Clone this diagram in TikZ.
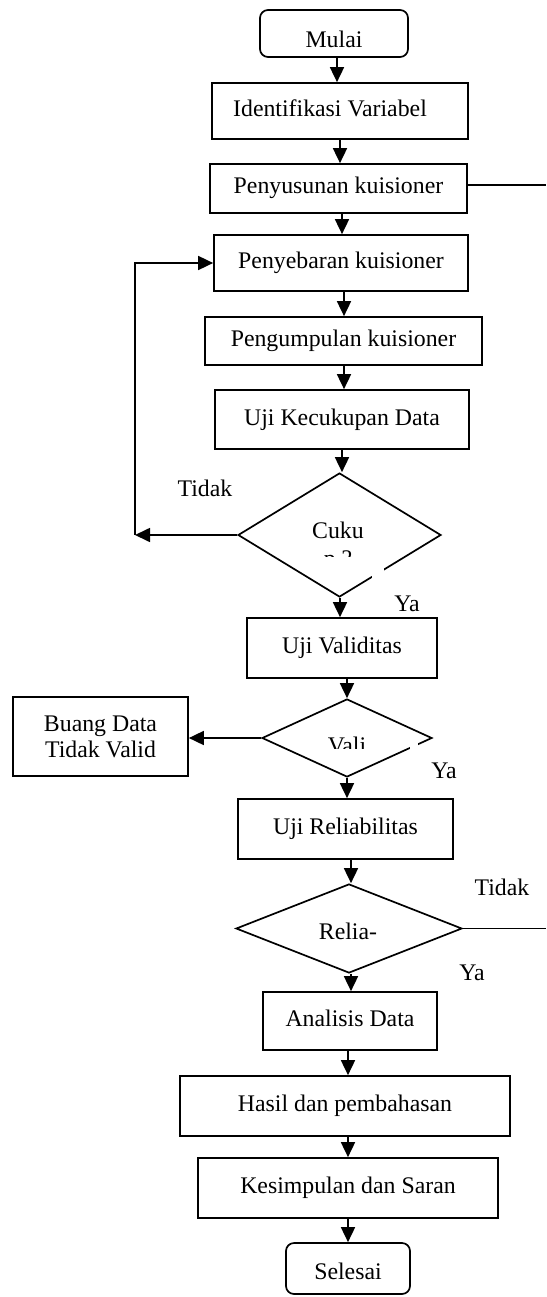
\documentclass[tikz,border=0pt]{standalone}
\usepackage{fontspec}
\setmainfont{Liberation Serif}
\usetikzlibrary{shapes.geometric,arrows.meta}
\begin{document}
\begin{tikzpicture}[x=1pt,y=-1pt,
  every node/.style={font=\fontsize{23.8}{26}\selectfont, inner sep=0pt},
  ln/.style={line width=1.7pt},
  proc/.style={draw, line width=1.7pt, text height=16.2pt, text depth=5.2pt},
  term/.style={proc, rounded corners=8pt},
  decision/.style={draw, diamond, line width=1.7pt, inner sep=0pt},
  arr/.style={line width=1.7pt, -{Triangle[length=15pt,width=14pt]}},
  lbl/.style={anchor=base}
]
\useasboundingbox (0,0) rectangle (546,1297);

% main column of steps
\node[term, minimum width=148pt, minimum height=47pt, text height=28.6pt, text depth=0pt] (mulai) at (334,33.5) {Mulai};
\node[proc, minimum width=256pt, minimum height=56pt] (ident) at (340,111) {Identifikasi Variabel\hspace*{20pt}};
\node[proc, minimum width=257pt, minimum height=49pt] (susun) at (338.5,188.5) {Penyusunan kuisioner};
\node[proc, minimum width=254pt, minimum height=56pt] (sebar) at (341,263) {Penyebaran kuisioner};
\node[proc, minimum width=277pt, minimum height=48pt] (kumpul) at (343.5,341) {Pengumpulan kuisioner};
\node[proc, minimum width=254pt, minimum height=59pt] (cukup) at (342,419.5) {Uji Kecukupan Data};
\node[decision, minimum width=203pt, minimum height=124pt] (cuku) at (339.5,535) {};
\node[proc, minimum width=190pt, minimum height=60pt] (valid) at (342,648) {Uji Validitas};
\node[decision, minimum width=170pt, minimum height=78pt] (vali) at (347,738) {};
\node[proc, minimum width=175pt, minimum height=79pt, align=center, text height=, text depth=] (buang) at (100.5,736.5) {Buang Data\\Tidak Valid};
\node[proc, minimum width=215pt, minimum height=60pt] (reliab) at (345.5,829) {Uji Reliabilitas};
\node[decision, minimum width=226pt, minimum height=89pt] (relia) at (349,928.5) {};
\node[proc, minimum width=174pt, minimum height=58pt] (analisis) at (350,1021) {Analisis Data};
\node[proc, minimum width=330pt, minimum height=60pt] (hasil) at (345,1106) {Hasil dan pembahasan};
\node[proc, minimum width=300pt, minimum height=60pt] (simpul) at (348,1188) {Kesimpulan dan Saran};
\node[term, minimum width=124pt, minimum height=51pt, text height=22.8pt, text depth=0pt] (selesai) at (348,1268.5) {Selesai};

% texts inside the decisions (their text boxes cut part of them)
\node[lbl] (cukutxt) at (338,538) {Cuku};
\begin{scope}
  \clip (300,540) rectangle (380,556);
  \node[lbl] (cukutxtb) at (338,566) {p ?};
\end{scope}
\fill[white] (372,567) rectangle (384,579);
\begin{scope}
  \clip (300,720) rectangle (400,748);
  \node[lbl] (valitxt) at (347,753) {Vali};
\end{scope}
\fill[white] (410,741) rectangle (418,751);
\node[lbl] (reliatxt) at (348,939) {Relia-};

% branch labels
\node[lbl] (tidak1) at (205,496) {Tidak};
\node[lbl] (ya1) at (407,611) {Ya};
\node[lbl] (ya2) at (444,778) {Ya};
\node[lbl] (tidak2) at (502,895) {Tidak};
\node[lbl] (ya3) at (472,980) {Ya};

% downward flow
\draw[arr] (337,0 |- mulai.south) -- (337,0 |- ident.north);
\draw[arr] (340,0 |- ident.south) -- (340,0 |- susun.north);
\draw[arr] (342,0 |- susun.south) -- (342,0 |- sebar.north);
\draw[arr] (344,0 |- sebar.south) -- (344,0 |- kumpul.north);
\draw[arr] (344,0 |- kumpul.south) -- (344,0 |- cukup.north);
\draw[arr] (342,0 |- cukup.south) -- (342,0 |- cuku.north);
\draw[arr] (340,0 |- cuku.south) -- (340,0 |- valid.north);
\draw[arr] (347,0 |- valid.south) -- (347,0 |- vali.north);
\draw[arr] (347,0 |- vali.south) -- (347,0 |- reliab.north);
\draw[arr] (351,0 |- reliab.south) -- (351,0 |- relia.north);
\draw[arr] (351,0 |- relia.south) -- (351,0 |- analisis.north);
\draw[arr] (348,0 |- analisis.south) -- (348,0 |- hasil.north);
\draw[arr] (348,0 |- hasil.south) -- (348,0 |- simpul.north);
\draw[arr] (348,0 |- simpul.south) -- (348,0 |- selesai.north);

% loop back when data are not sufficient
\coordinate (fb) at (135,535);
\draw[arr] (cuku.west) -- (fb);
\draw[arr] (fb) |- (sebar.west);

% invalid data branch
\draw[arr] (vali.west) -- (vali.west -| buang.east);

% lines leaving to the right
\coordinate (sideA) at (546,185);
\coordinate (sideB) at (546,928.5);
\draw[ln] (susun.east |- sideA) -- (sideA);
\draw[ln] (relia.east) -- (sideB);
\end{tikzpicture}
\end{document}
